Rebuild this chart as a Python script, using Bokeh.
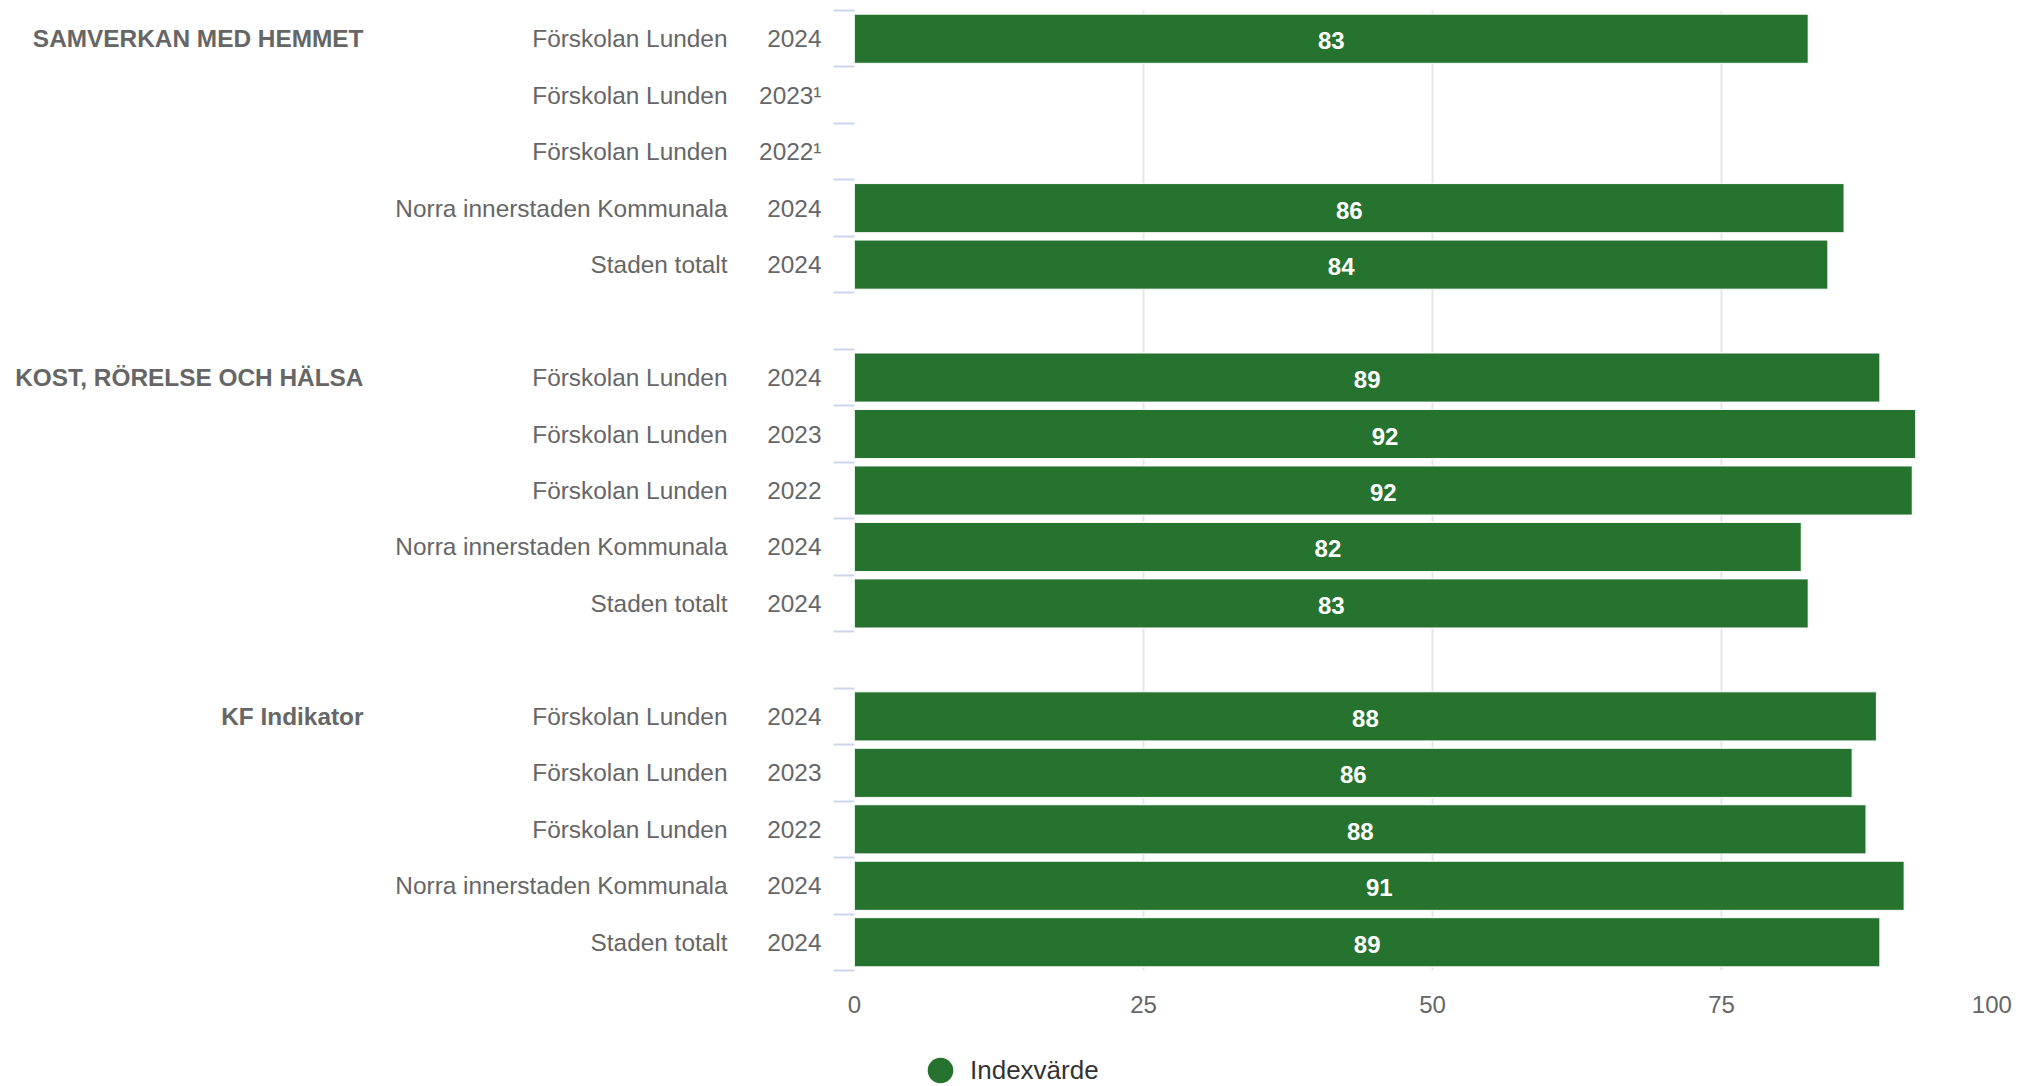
import math
from bokeh.plotting import figure
from bokeh.layouts import column
from bokeh.models import ColumnDataSource, FixedTicker, LinearAxis, Range1d, Legend, LegendItem
from bokeh.core.properties import value
from bokeh.embed import file_html
from bokeh.resources import INLINE

# ---------------- data ----------------
groups = ["SAMVERKAN MED HEMMET", "KOST, RÖRELSE OCH HÄLSA", "KF Indikator"]
units = ["Förskolan Lunden", "Förskolan Lunden", "Förskolan Lunden",
         "Norra innerstaden Kommunala", "Staden totalt"]
years_samverkan = ["2024", "2023¹", "2022¹", "2024", "2024"]
years_kost = ["2024", "2023", "2022", "2024", "2024"]
years_kf = ["2024", "2023", "2022", "2024", "2024"]
values_samverkan = [82.5, None, None, 85.6, 84.2]
values_kost = [88.7, 91.8, 91.5, 81.9, 82.5]
values_kf = [88.4, 86.3, 87.5, 90.8, 88.7]
x_ticks = [0, 25, 50, 75, 100]
series_name = "Indexvärde"

# ---------------- layout of rows ----------------
BAR = "#25732e"
FONT = "Liberation Sans"
LBL = "24.4px"
year_lists = [years_samverkan, years_kost, years_kf]
value_lists = [values_samverkan, values_kost, values_kf]
per_group = len(units) + 1          # one blank spacer row after each group
n_rows = per_group * len(groups) - 1

rows, names_map, years_map, group_map = [], {}, {}, {}
bar_y, bar_v, lab_x, lab_t = [], [], [], []
for gi, g in enumerate(groups):
    base = gi * per_group
    group_map[base] = g
    for j, u in enumerate(units):
        r = base + j
        rows.append(r)
        names_map[r] = u
        years_map[r] = year_lists[gi][j]
        v = value_lists[gi][j]
        if v is not None:
            bar_y.append(r)
            bar_v.append(v)
            lab_x.append(v / 2)
            lab_t.append(str(int(math.floor(v + 0.5))))

boundaries = [i - 0.5 for i in range(n_rows + 1)]

bars = ColumnDataSource(dict(y=bar_y, v=bar_v, lx=lab_x, t=lab_t))

W = 2018
H_MAIN = 1026
H_LEG = 60

p = figure(width=W, height=H_MAIN, output_backend="svg", toolbar_location=None,
           x_range=Range1d(0, 100), y_range=Range1d(n_rows - 0.5, -0.5),
           min_border_left=854, min_border_right=8, min_border_top=10, min_border_bottom=56)
p.outline_line_color = None
p.background_fill_color = "white"

p.hbar(y="y", right="v", left=0, height=0.87, source=bars,
       fill_color=BAR, line_color="white", line_width=1)
p.text(x="lx", y="y", text="t", source=bars, text_align="center", text_baseline="middle",
       text_color="white", text_font=value(FONT), text_font_style="bold",
       text_font_size="24px", y_offset=2)

# x axis
xa = p.xaxis[0]
xa.ticker = FixedTicker(ticks=x_ticks)
xa.major_label_overrides = {100: "100\u00a0"}
xa.major_tick_line_color = None
xa.minor_tick_line_color = None
xa.major_tick_out = 0
xa.minor_tick_out = 0
xa.axis_line_color = None
xa.major_label_standoff = 20
xa.major_label_text_font = FONT
xa.major_label_text_font_size = "24px"
xa.major_label_text_color = "#666666"

p.xgrid.ticker = FixedTicker(ticks=x_ticks)
p.xgrid.grid_line_color = "#e6e6e6"
p.xgrid.grid_line_width = 2
p.ygrid.visible = False

# y axis 1: years (closest to plot) with band ticks
ya = p.yaxis[0]
ya.ticker = FixedTicker(ticks=rows, minor_ticks=boundaries)
ya.major_label_overrides = years_map
ya.major_tick_line_color = None
ya.major_tick_out = 0
ya.major_tick_in = 0
ya.minor_tick_out = 21
ya.minor_tick_in = 0
ya.minor_tick_line_color = "#ccd6eb"
ya.minor_tick_line_width = 2
ya.axis_line_color = None
ya.major_label_standoff = 12
ya.major_label_text_font = FONT
ya.major_label_text_font_size = LBL
ya.major_label_text_color = "#666666"

# y axis 2: units
na = LinearAxis(ticker=FixedTicker(ticks=rows), major_label_overrides=names_map)
# y axis 3: groups
ga = LinearAxis(ticker=FixedTicker(ticks=sorted(group_map)), major_label_overrides=group_map)
for ax, so in ((na, 29), (ga, 29)):
    ax.major_tick_line_color = None
    ax.minor_tick_line_color = None
    ax.major_tick_out = 0
    ax.major_tick_in = 0
    ax.minor_tick_out = 0
    ax.axis_line_color = None
    ax.major_label_standoff = so
    ax.major_label_text_font = FONT
    ax.major_label_text_font_size = LBL
    ax.major_label_text_color = "#666666"
ga.major_label_text_font_style = "bold"
p.add_layout(na, "left")
p.add_layout(ga, "left")

# ---------------- legend strip ----------------
lf = figure(width=W, height=H_LEG, output_backend="svg", toolbar_location=None,
            x_range=Range1d(0, 1), y_range=Range1d(0, 1),
            x_axis_type=None, y_axis_type=None, min_border=0)
lf.outline_line_color = None
lf.grid.visible = False
# symbol source for the legend (its points fall outside this strip's ranges)
leg_r = lf.ellipse(x="v", y="y", width=26, height=26, width_units="screen",
                   height_units="screen", source=bars, fill_color=BAR, line_color=None)
legend = Legend(items=[LegendItem(label=series_name, renderers=[leg_r])],
                location=(70, 0), orientation="horizontal",
                glyph_width=32, glyph_height=32, label_standoff=14,
                padding=0, margin=0, spacing=0,
                background_fill_alpha=0, border_line_alpha=0,
                label_text_font=FONT, label_text_font_size="26px",
                label_text_color="#333333")
lf.add_layout(legend)

layout = column(p, lf, spacing=0)
open("out.html", "w").write(file_html(layout, INLINE))
